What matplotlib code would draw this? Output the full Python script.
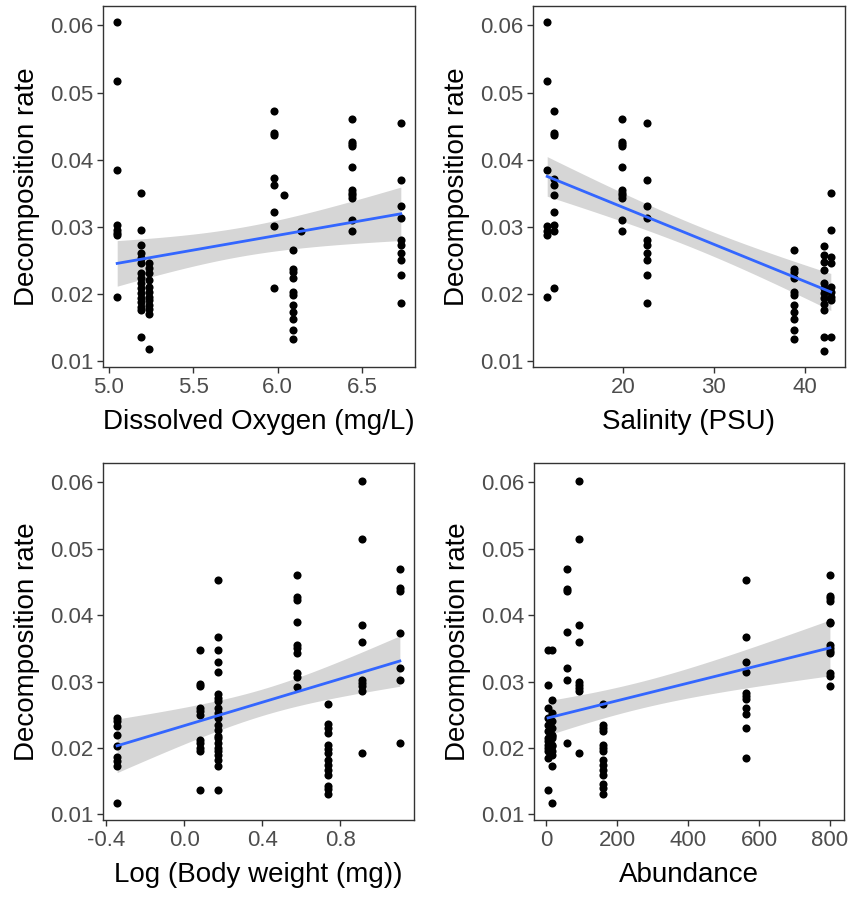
import numpy as np
import matplotlib
matplotlib.use('Agg')
import matplotlib.pyplot as plt

plt.rcParams['font.family'] = ['Liberation Sans', 'DejaVu Sans']

# Dissolved oxygen (mg/L) groups and decomposition rates
do_levels = [5.05, 5.19, 5.24, 5.98, 6.04, 6.09, 6.14, 6.44, 6.73]
do_rates = [
    [0.06045, 0.05175, 0.03845, 0.03035, 0.0296, 0.0291, 0.02875, 0.0195],
    [0.035, 0.0296, 0.02735, 0.0261, 0.02535, 0.0246, 0.0231, 0.02235, 0.0216,
     0.02085, 0.0201, 0.01935, 0.01885, 0.0181, 0.0176, 0.0136],
    [0.0246, 0.02385, 0.0231, 0.0221, 0.0211, 0.02035, 0.0196, 0.0191, 0.01835,
     0.01785, 0.0171, 0.01185],
    [0.0472, 0.044, 0.04375, 0.03735, 0.0362, 0.0322, 0.0302, 0.02095],
    [0.03475],
    [0.0266, 0.02375, 0.02335, 0.02235, 0.02035, 0.01985, 0.01835, 0.01735, 0.01635,
     0.0146, 0.01335],
    [0.02935],
    [0.0461, 0.0427, 0.04235, 0.0421, 0.039, 0.0355, 0.0351, 0.0347, 0.03435, 0.0311, 0.02935],
    [0.0455, 0.037, 0.0331, 0.03135, 0.0281, 0.02725, 0.0261, 0.0251, 0.02285, 0.0187],
]

# Salinity (PSU)
sal_levels = [11.6, 12.3, 19.9, 22.6, 38.8, 42.2, 42.9]
sal_rates = [
    [0.06045, 0.05175, 0.03845, 0.0302, 0.02935, 0.02875, 0.0195],
    [0.0472, 0.044, 0.04375, 0.0372, 0.0362, 0.0347, 0.0322, 0.03035, 0.02935, 0.02095],
    [0.0461, 0.0427, 0.04235, 0.042, 0.039, 0.0355, 0.0351, 0.0347, 0.03435, 0.0311, 0.02935],
    [0.0455, 0.037, 0.0331, 0.03135, 0.0281, 0.02725, 0.0261, 0.0251, 0.02285, 0.0187],
    [0.0266, 0.02375, 0.02335, 0.02235, 0.02035, 0.01985, 0.01835, 0.01735, 0.01635,
     0.0146, 0.01335],
    [0.0272, 0.02585, 0.02485, 0.0236, 0.0216, 0.02085, 0.0201, 0.01935, 0.0186,
     0.0176, 0.0136, 0.0116],
    [0.035, 0.0296, 0.0256, 0.0246, 0.0211, 0.0203, 0.0196, 0.0191, 0.0136],
]

# Log (body weight)
bw_levels = [-0.345, 0.081, 0.171, 0.579, 0.738, 0.91, 1.105]
bw_rates = [
    [0.0245, 0.024, 0.02325, 0.022, 0.02025, 0.0187, 0.018, 0.01725, 0.0117],
    [0.0348, 0.0296, 0.02925, 0.026, 0.0255, 0.025, 0.02125, 0.02075, 0.02, 0.0195, 0.01365],
    [0.04525, 0.03675, 0.0348, 0.0329, 0.0315, 0.0281, 0.0275, 0.027, 0.026, 0.02525,
     0.0245, 0.0235, 0.02275, 0.02175, 0.0215, 0.02075, 0.02, 0.0195, 0.019, 0.01825,
     0.01725, 0.01365],
    [0.0461, 0.04275, 0.04225, 0.0389, 0.03555, 0.035, 0.03425, 0.03125, 0.03075, 0.0291],
    [0.02665, 0.02365, 0.023, 0.02225, 0.0205, 0.0199, 0.01925, 0.01825, 0.0175, 0.01675,
     0.016, 0.01425, 0.01375, 0.013],
    [0.06025, 0.0515, 0.0385, 0.036, 0.03025, 0.02975, 0.02925, 0.0285, 0.01925],
    [0.047, 0.0441, 0.0436, 0.03735, 0.032, 0.03025, 0.02075],
]

# Abundance
ab_levels = [5, 15, 59, 91, 160, 563, 800]
ab_rates = [
    [0.0348, 0.0295, 0.026, 0.0245, 0.0235, 0.0225, 0.0215, 0.021, 0.0205, 0.02,
     0.0195, 0.0185, 0.01365],
    [0.0348, 0.02725, 0.02525, 0.024, 0.023, 0.022, 0.02175, 0.0215, 0.02025, 0.0205,
     0.0195, 0.019, 0.01725, 0.0117],
    [0.047, 0.044, 0.0436, 0.0374, 0.032, 0.03025, 0.02075],
    [0.06025, 0.0515, 0.0385, 0.036, 0.03, 0.0295, 0.029, 0.0285, 0.01925],
    [0.0266, 0.0235, 0.023, 0.0225, 0.0205, 0.02, 0.0195, 0.01825, 0.0175, 0.01675,
     0.016, 0.0145, 0.014, 0.013],
    [0.04525, 0.03675, 0.0329, 0.0314, 0.02825, 0.02775, 0.0274, 0.026, 0.02515, 0.023, 0.0185],
    [0.0461, 0.0429, 0.0425, 0.0421, 0.039, 0.03875, 0.0355, 0.035, 0.0346, 0.03425,
     0.03125, 0.0309, 0.02925],
]

panels = [
    (do_levels, do_rates, 'Dissolved Oxygen (mg/L)', [5.0, 5.5, 6.0, 6.5], ['5.0', '5.5', '6.0', '6.5']),
    (sal_levels, sal_rates, 'Salinity (PSU)', [20, 30, 40], ['20', '30', '40']),
    (bw_levels, bw_rates, 'Log (Body weight (mg))', [-0.4, 0.0, 0.4, 0.8], ['-0.4', '0.0', '0.4', '0.8']),
    (ab_levels, ab_rates, 'Abundance', [0, 200, 400, 600, 800], ['0', '200', '400', '600', '800']),
]
yticks = [0.01, 0.02, 0.03, 0.04, 0.05, 0.06]
ylabels = ['0.01', '0.02', '0.03', '0.04', '0.05', '0.06']

# axes boxes in pixels (left, top, right, bottom)
boxes = [(103, 6, 415, 367), (533, 6, 845, 367), (103, 463, 414, 820), (534, 463, 844, 820)]
W, H = 848, 898
fig = plt.figure(figsize=(W / 100, H / 100), dpi=100)

t_crit = 1.993

for (levels, rates, xlabel, xt, xtl), (l, t, r, b) in zip(panels, boxes):
    ax = fig.add_axes([l / W, 1 - b / H, (r - l) / W, (b - t) / H])
    x = np.concatenate([[lv] * len(rs) for lv, rs in zip(levels, rates)])
    y = np.concatenate(rates)

    # linear fit with 95% CI (like geom_smooth(method='lm'))
    n = len(x)
    slope, icpt = np.polyfit(x, y, 1)
    resid = y - (slope * x + icpt)
    s = np.sqrt(np.sum(resid ** 2) / (n - 2))
    xx = np.linspace(x.min(), x.max(), 80)
    yy = slope * xx + icpt
    se = s * np.sqrt(1 / n + (xx - x.mean()) ** 2 / np.sum((x - x.mean()) ** 2))
    ax.fill_between(xx, yy - t_crit * se, yy + t_crit * se, color='#999999', alpha=0.4,
                    linewidth=0, zorder=2)
    ax.scatter(x, y, s=34, color='black', zorder=3, linewidths=0)
    ax.plot(xx, yy, color='#3366FF', lw=2.0, zorder=5)

    xr = x.max() - x.min()
    ax.set_xlim(x.min() - 0.05 * xr, x.max() + 0.05 * xr)
    ax.set_ylim(0.00915, 0.0629)
    ax.set_xticks(xt)
    ax.set_xticklabels(xtl)
    ax.set_yticks(yticks)
    ax.set_yticklabels(ylabels)
    ax.tick_params(colors='#333333', labelcolor='#4D4D4D', labelsize=16, length=4, width=1, pad=3)
    for sp in ax.spines.values():
        sp.set_color('#333333')
        sp.set_linewidth(1)
    ax.set_xlabel(xlabel, fontsize=20, color='black', labelpad=8)
    ax.set_ylabel('Decomposition rate', fontsize=20, color='black', labelpad=7)

fig.savefig('out.png', dpi=100)
